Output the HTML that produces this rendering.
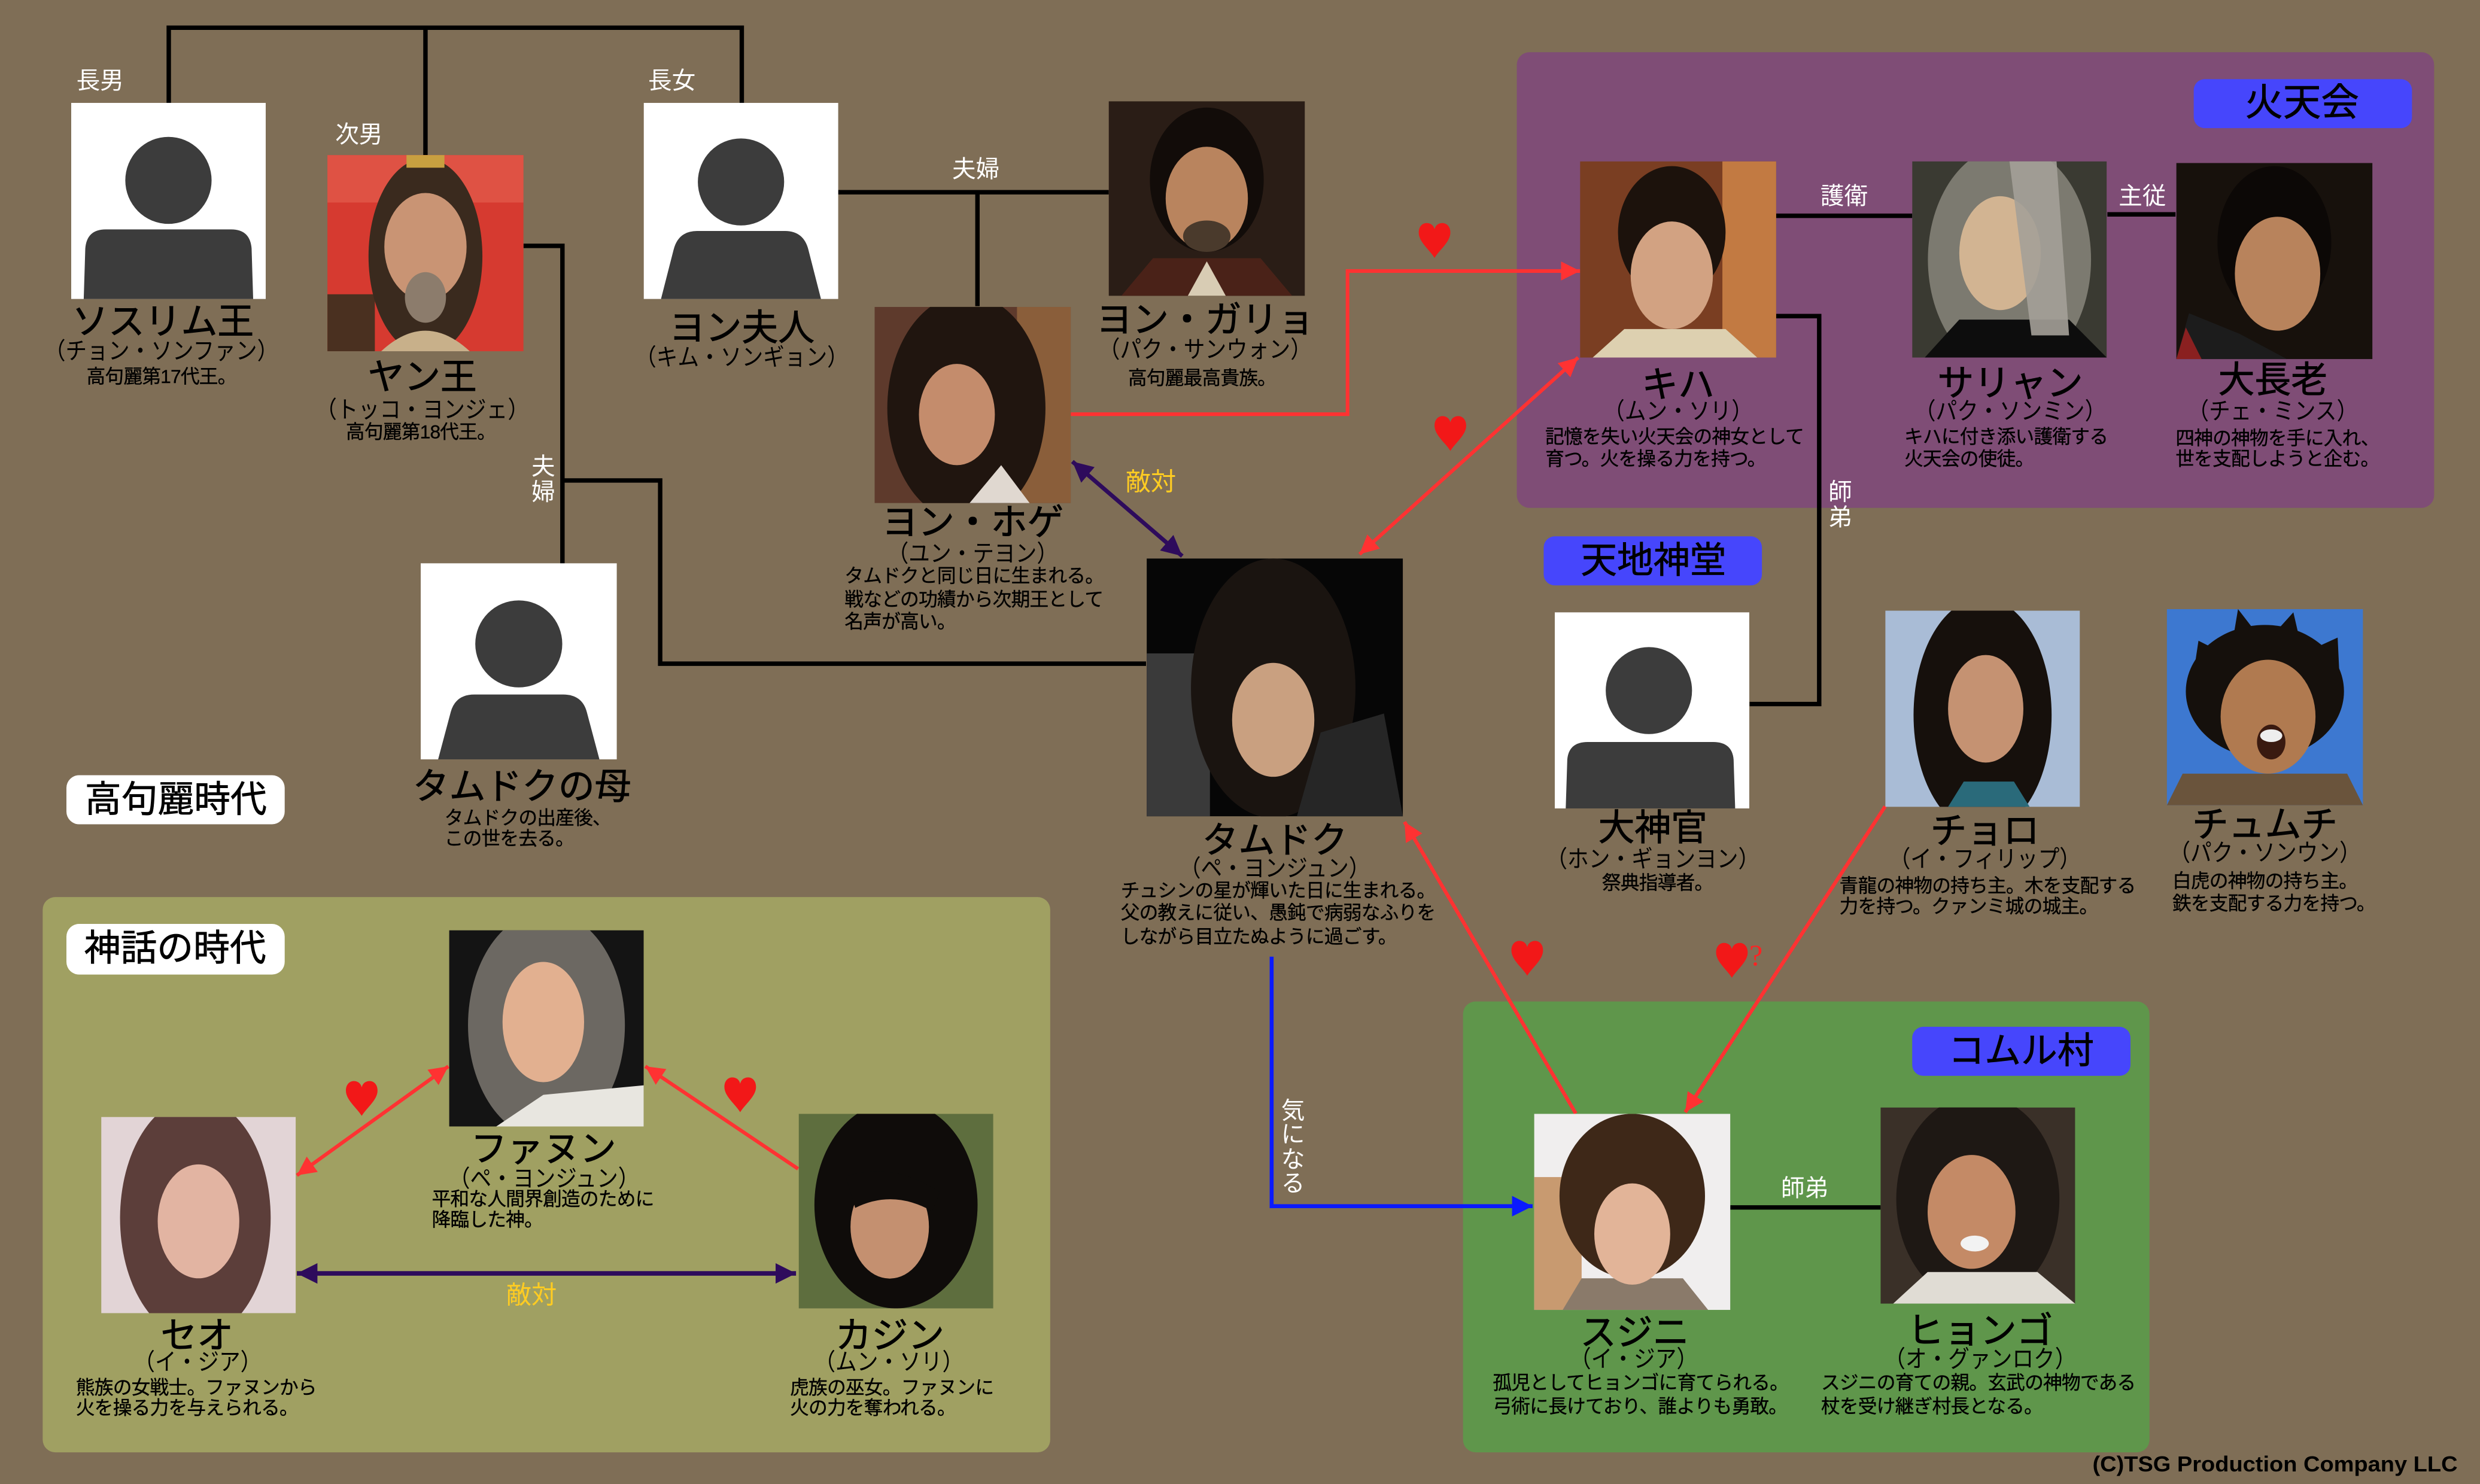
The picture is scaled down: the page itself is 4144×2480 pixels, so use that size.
<!DOCTYPE html>
<html><head><meta charset="utf-8">
<style>
html,body{margin:0;padding:0;width:4144px;height:2480px;overflow:hidden;background:#7f6e56}
#w{position:absolute;left:0;top:0;width:1568px;height:938px;transform:scale(2.642857,2.643923);transform-origin:0 0;font-family:"Liberation Sans","Noto Sans CJK JP",sans-serif;color:#000}
.a{position:absolute}
.t{position:absolute;white-space:nowrap;line-height:1}
.c{width:300px;margin-left:-150px;text-align:center}
.n{font-size:23px;-webkit-text-stroke:0.35px #000}
.r{font-size:15px;transform:scaleX(.9);margin-top:1.5px}
.d{font-size:12px;line-height:14px;letter-spacing:-.3px;-webkit-text-stroke:0.15px #000}
.w{color:#fff;font-size:15px}
.y{color:#ffcc22;font-size:16px}
.g{position:absolute;border-radius:8px}
.lb{position:absolute;border-radius:7px;text-align:center;color:#000;font-size:24px;background:#4646fc;-webkit-text-stroke:0.3px #000}
.wb{position:absolute;border-radius:8px;text-align:center;color:#000;font-size:23px;background:#fff;-webkit-text-stroke:0.3px #000}
svg.p{position:absolute}
</style></head><body><div id="w">

<!-- group boxes -->
<div class="g" style="left:959.3px;top:33.2px;width:580px;height:288px;background:#7f4d76"></div>
<div class="g" style="left:27px;top:566.7px;width:636.5px;height:351px;background:#a0a062"></div>
<div class="g" style="left:925px;top:633px;width:434px;height:284.5px;background:#5f964b"></div>

<!-- connectors -->
<svg class="a" style="left:0;top:0" width="1568" height="938" viewBox="0 0 1568 938">
<defs>
<marker id="mr" markerUnits="userSpaceOnUse" markerWidth="12" markerHeight="12" viewBox="0 0 12 12" refX="12" refY="6" orient="auto-start-reverse"><path d="M0,0L12,6L0,12Z" fill="#ff3232"/></marker>
<marker id="mp" markerUnits="userSpaceOnUse" markerWidth="13" markerHeight="13" viewBox="0 0 12 12" refX="12" refY="6" orient="auto-start-reverse"><path d="M0,0L12,6L0,12Z" fill="#2e0b5c"/></marker>
<marker id="mb" markerUnits="userSpaceOnUse" markerWidth="13" markerHeight="13" viewBox="0 0 12 12" refX="12" refY="6" orient="auto-start-reverse"><path d="M0,0L12,6L0,12Z" fill="#0a1aff"/></marker>
<path id="h" d="M0 11C-3 6 -10 1 -10 -5C-10 -9 -7.5 -11 -5 -11C-2.5 -11 -0.5 -9.5 0 -7C0.5 -9.5 2.5 -11 5 -11C7.5 -11 10 -9 10 -5C10 1 3 6 0 11Z" fill="#f21818"/>
</defs>
<g fill="none" stroke="#000" stroke-width="2.8">
<path d="M106.7 65V17.5H469V65M269 17.5V98"/>
<path d="M331 155.4H355.6V356.4M355.6 303.7H417.4V419.5H724.6"/>
<path d="M530 121.5H701M618 121.5V193.5"/>
<path d="M1122.6 136.4H1209M1332.4 135.5H1375.5"/>
<path d="M1122.6 199.8H1150.2V445H1106.2"/>
<path d="M1094 763.2H1189"/>
</g>
<g fill="none" stroke="#ff3232" stroke-width="2.3">
<path d="M677 261.8H852V171.3H999" marker-end="url(#mr)"/>
<path d="M997.8 226L859.6 350.3" marker-start="url(#mr)" marker-end="url(#mr)"/>
<path d="M996.3 703.8L888 519.5" marker-end="url(#mr)"/>
<path d="M1191.9 509.7L1065.5 703" marker-end="url(#mr)"/>
<path d="M187.7 742.9L283.5 674" marker-start="url(#mr)" marker-end="url(#mr)"/>
<path d="M504.6 738.8L408 674" marker-end="url(#mr)"/>
</g>
<g fill="none" stroke="#2e0b5c">
<path d="M678 291.7L747.5 351.5" stroke-width="2.6" marker-start="url(#mp)" marker-end="url(#mp)"/>
<path d="M187.7 804.9H503.3" stroke-width="2.9" marker-start="url(#mp)" marker-end="url(#mp)"/>
</g>
<path d="M804 604.7V762.4H969" fill="none" stroke="#0a1aff" stroke-width="2.5" marker-end="url(#mb)"/>
<use href="#h" x="907" y="152"/>
<use href="#h" x="917" y="274"/>
<use href="#h" x="965.6" y="605.7"/>
<use href="#h" x="1095" y="607"/>
<use href="#h" x="228.7" y="694.3"/>
<use href="#h" x="468" y="692"/>
</svg>
<div class="t" style="left:1106px;top:595px;color:#f22;font-size:19px;font-family:'Liberation Serif',serif">?</div>

<!-- silhouettes -->
<svg class="p" style="left:45px;top:65px" width="123" height="124" viewBox="0 0 124 124" preserveAspectRatio="none"><rect width="124" height="124" fill="#fff"/><circle cx="62" cy="49" r="27.5" fill="#3c3c3c"/><path d="M8 124L9 92Q10 80 22 80H102Q114 80 115 92L116 124Z" fill="#3c3c3c"/></svg>
<svg class="p" style="left:407px;top:65px" width="123" height="124" viewBox="0 0 124 124" preserveAspectRatio="none"><rect width="124" height="124" fill="#fff"/><circle cx="62" cy="50" r="27.5" fill="#3c3c3c"/><path d="M11 124L19 93Q22 81 34 81H90Q102 81 105 93L113 124Z" fill="#3c3c3c"/></svg>
<svg class="p" style="left:266px;top:356px" width="124" height="124" viewBox="0 0 124 124" preserveAspectRatio="none"><rect width="124" height="124" fill="#fff"/><circle cx="62" cy="51" r="27.5" fill="#3c3c3c"/><path d="M11 124L19 94Q22 83 34 83H90Q102 83 105 94L113 124Z" fill="#3c3c3c"/></svg>
<svg class="p" style="left:983px;top:387px" width="123" height="124" viewBox="0 0 124 124" preserveAspectRatio="none"><rect width="124" height="124" fill="#fff"/><circle cx="60" cy="49.5" r="27.5" fill="#3c3c3c"/><path d="M7 124L8 93Q9 82 21 82H101Q113 82 114 93L115 124Z" fill="#3c3c3c"/></svg>

<!-- photos -->
<svg class="p" style="left:207px;top:98px" width="124" height="124" viewBox="0 0 124 124" preserveAspectRatio="none"><rect width="124" height="124" fill="#d63a30"/><rect width="124" height="30" fill="#e86a58" opacity=".5"/><rect y="88" width="30" height="36" fill="#4a3020"/><ellipse cx="62" cy="64" rx="36" ry="62" fill="#3a2a1e"/><path d="M34 124Q62 98 90 124Z" fill="#c8b08a"/><ellipse cx="62" cy="58" rx="26" ry="34" fill="#c99474"/><ellipse cx="62" cy="90" rx="13" ry="16" fill="#8c7c6c"/><rect x="50" y="0" width="24" height="8" fill="#c8a040"/></svg>
<svg class="p" style="left:701px;top:64px" width="124" height="123" viewBox="0 0 124 124" preserveAspectRatio="none"><rect width="124" height="124" fill="#2a1d16"/><ellipse cx="62" cy="50" rx="36" ry="46" fill="#120c09"/><path d="M8 124L28 100H96L116 124Z" fill="#4a2218"/><path d="M50 124L62 102L74 124Z" fill="#d8ccb4"/><ellipse cx="62" cy="62" rx="26" ry="33" fill="#b9845e"/><ellipse cx="62" cy="86" rx="15" ry="10" fill="#4a3a2c"/></svg>
<svg class="p" style="left:553px;top:193.5px" width="124" height="124" viewBox="0 0 124 124" preserveAspectRatio="none"><rect width="124" height="124" fill="#5e3a2c"/><rect x="90" width="34" height="124" fill="#8a5e3a"/><ellipse cx="58" cy="64" rx="50" ry="72" fill="#20150f"/><path d="M60 124L80 100L98 124Z" fill="#e0d8d0"/><ellipse cx="52" cy="68" rx="24" ry="32" fill="#c48c6c"/></svg>
<svg class="p" style="left:725px;top:353px" width="162" height="163" viewBox="0 0 162 163" preserveAspectRatio="none"><rect width="162" height="163" fill="#060606"/><rect y="60" width="40" height="103" fill="#3a3a3a"/><ellipse cx="80" cy="82" rx="52" ry="82" fill="#1a1410"/><path d="M95 163L110 110L150 98L162 163Z" fill="#262626"/><ellipse cx="80" cy="102" rx="26" ry="36" fill="#c9a080"/></svg>
<svg class="p" style="left:999px;top:102px" width="124" height="124" viewBox="0 0 124 124" preserveAspectRatio="none"><rect width="124" height="124" fill="#7a3e22"/><rect x="90" width="34" height="124" fill="#c27a42"/><ellipse cx="58" cy="45" rx="34" ry="42" fill="#1c120c"/><path d="M8 124L28 106H92L112 124Z" fill="#ddd0b0"/><ellipse cx="58" cy="72" rx="26" ry="34" fill="#d2a282"/></svg>
<svg class="p" style="left:1209px;top:102px" width="123" height="124" viewBox="0 0 124 124" preserveAspectRatio="none"><rect width="124" height="124" fill="#3a3a32"/><ellipse cx="62" cy="62" rx="52" ry="72" fill="#7c7a70"/><path d="M8 124L30 100H100L124 124Z" fill="#0d0d0d"/><ellipse cx="56" cy="58" rx="26" ry="36" fill="#d2b492"/><path d="M62 0H92L100 110H76Z" fill="#a4a098" opacity=".9"/></svg>
<svg class="p" style="left:1375.5px;top:102.5px" width="124" height="124" viewBox="0 0 124 124" preserveAspectRatio="none"><rect width="124" height="124" fill="#17110c"/><ellipse cx="62" cy="50" rx="36" ry="48" fill="#0c0806"/><path d="M0 124L8 95L40 108L70 124Z" fill="#1c1c1c"/><path d="M0 124L6 104L16 124Z" fill="#8a2020"/><ellipse cx="64" cy="70" rx="27" ry="36" fill="#b8835c"/></svg>
<svg class="p" style="left:1192px;top:386px" width="123" height="124" viewBox="0 0 124 124" preserveAspectRatio="none"><rect width="124" height="124" fill="#a9bcd6"/><ellipse cx="62" cy="66" rx="44" ry="74" fill="#16100c"/><path d="M40 124L50 108H82L92 124Z" fill="#2a6a7a"/><ellipse cx="64" cy="62" rx="24" ry="34" fill="#c59272"/></svg>
<svg class="p" style="left:1370px;top:385px" width="124" height="124" viewBox="0 0 124 124" preserveAspectRatio="none"><rect width="124" height="124" fill="#3d78d0"/><path d="M14 60L20 20L40 30L45 0L62 22L80 2L86 28L108 18L110 60Z" fill="#15100c"/><ellipse cx="62" cy="52" rx="50" ry="42" fill="#15100c"/><path d="M0 124L10 104H114L124 124Z" fill="#6a543c"/><ellipse cx="64" cy="68" rx="30" ry="36" fill="#b07a50"/><ellipse cx="66" cy="84" rx="9" ry="11" fill="#3a1a10"/><ellipse cx="66" cy="80" rx="7" ry="4" fill="#eee"/></svg>
<svg class="p" style="left:284px;top:588px" width="123" height="124" viewBox="0 0 124 124" preserveAspectRatio="none"><rect width="124" height="124" fill="#141414"/><ellipse cx="62" cy="60" rx="50" ry="72" fill="#6c6862"/><path d="M30 124L60 104L124 98V124Z" fill="#e8e6e0"/><ellipse cx="60" cy="58" rx="26" ry="38" fill="#e2b090"/></svg>
<svg class="p" style="left:63.5px;top:705.5px" width="123" height="124" viewBox="0 0 124 124" preserveAspectRatio="none"><rect width="124" height="124" fill="#e2d4d6"/><ellipse cx="60" cy="64" rx="48" ry="76" fill="#5c3e3a"/><ellipse cx="62" cy="66" rx="26" ry="36" fill="#e2b4a2"/></svg>
<svg class="p" style="left:504.6px;top:703.5px" width="123" height="123" viewBox="0 0 124 124" preserveAspectRatio="none"><rect width="124" height="124" fill="#5e6e3e"/><ellipse cx="62" cy="58" rx="52" ry="66" fill="#0f0c0a"/><ellipse cx="58" cy="72" rx="25" ry="33" fill="#c49070"/><path d="M30 40Q60 30 90 50L85 62Q60 48 36 60Z" fill="#0f0c0a"/></svg>
<svg class="p" style="left:970px;top:704px" width="124" height="124" viewBox="0 0 124 124" preserveAspectRatio="none"><rect width="124" height="124" fill="#f0eeee"/><rect y="40" width="30" height="84" fill="#c89a70"/><ellipse cx="62" cy="52" rx="46" ry="52" fill="#3e2818"/><path d="M18 124L30 104H94L110 124Z" fill="#8a7a6a"/><ellipse cx="62" cy="76" rx="24" ry="32" fill="#e2b498"/></svg>
<svg class="p" style="left:1189px;top:700px" width="123" height="124" viewBox="0 0 124 124" preserveAspectRatio="none"><rect width="124" height="124" fill="#3a3028"/><ellipse cx="62" cy="58" rx="52" ry="66" fill="#1e1814"/><path d="M8 124L30 104H100L124 124Z" fill="#e0dcd4"/><ellipse cx="58" cy="66" rx="28" ry="36" fill="#c48a66"/><ellipse cx="60" cy="86" rx="9" ry="5" fill="#f2f2f2"/></svg>

<!-- group labels -->
<div class="lb" style="left:1386.5px;top:49.6px;width:138px;height:31.4px;line-height:31.4px">火天会</div>
<div class="lb" style="left:976.4px;top:339px;width:138px;height:30.8px;line-height:30.8px;font-size:23px">天地神堂</div>
<div class="lb" style="left:1209px;top:648.5px;width:137.6px;height:31.2px;line-height:31.2px;font-size:23px">コムル村</div>
<div class="wb" style="left:42.2px;top:489.5px;width:138px;height:31.2px;line-height:31.2px">高句麗時代</div>
<div class="wb" style="left:42px;top:584.4px;width:137.5px;height:31.3px;line-height:31.3px">神話の時代</div>

<!-- white relation labels -->
<div class="t w" style="left:48.3px;top:44px">長男</div>
<div class="t w" style="left:212px;top:77.5px">次男</div>
<div class="t w" style="left:409.8px;top:44px">長女</div>
<div class="t w" style="left:602px;top:100px">夫婦</div>
<div class="t w" style="left:1151px;top:116.5px">護衛</div>
<div class="t w" style="left:1339.5px;top:116.5px">主従</div>
<div class="t w" style="left:1126px;top:744px">師弟</div>
<div class="t w" style="left:336px;top:288px;line-height:15.5px">夫<br>婦</div>
<div class="t w" style="left:1156px;top:304px;line-height:16px">師<br>弟</div>
<div class="t w" style="left:810px;top:695px;line-height:15.3px">気<br>に<br>な<br>る</div>
<div class="t y" style="left:711.6px;top:298px">敵対</div>
<div class="t y" style="left:320px;top:812px">敵対</div>

<!-- names -->
<div class="t c n" style="left:103px;top:191.5px">ソスリム王</div>
<div class="t c n" style="left:267px;top:226.5px">ヤン王</div>
<div class="t c n" style="left:469px;top:195.5px">ヨン夫人</div>
<div class="t c n" style="left:762px;top:190.5px">ヨン・ガリョ</div>
<div class="t c n" style="left:615px;top:318.5px">ヨン・ホゲ</div>
<div class="t c n" style="left:1061px;top:232px">キハ</div>
<div class="t c n" style="left:1271px;top:230.5px">サリャン</div>
<div class="t c n" style="left:1437px;top:229px">大長老</div>
<div class="t c n" style="left:806px;top:520px">タムドク</div>
<div class="t c n" style="left:330px;top:485.5px">タムドクの母</div>
<div class="t c n" style="left:1045px;top:512px">大神官</div>
<div class="t c n" style="left:1255px;top:514px">チョロ</div>
<div class="t c n" style="left:1432px;top:510px">チュムチ</div>
<div class="t c n" style="left:343.6px;top:715px">ファヌン</div>
<div class="t c n" style="left:124.6px;top:833px">セオ</div>
<div class="t c n" style="left:562.6px;top:832.5px">カジン</div>
<div class="t c n" style="left:1033.5px;top:831px">スジニ</div>
<div class="t c n" style="left:1252px;top:829.5px">ヒョンゴ</div>

<!-- actors -->
<div class="t c r" style="left:102px;top:213px">（チョン・ソンファン）</div>
<div class="t c r" style="left:267px;top:250px">（トッコ・ヨンジェ）</div>
<div class="t c r" style="left:469px;top:217px">（キム・ソンギョン）</div>
<div class="t c r" style="left:762px;top:212px">（パク・サンウォン）</div>
<div class="t c r" style="left:615px;top:341px">（ユン・テヨン）</div>
<div class="t c r" style="left:1061px;top:251.5px">（ムン・ソリ）</div>
<div class="t c r" style="left:1271px;top:251.5px">（パク・ソンミン）</div>
<div class="t c r" style="left:1437px;top:251px">（チェ・ミンス）</div>
<div class="t c r" style="left:806px;top:540px">（ペ・ヨンジュン）</div>
<div class="t c r" style="left:1045px;top:534px">（ホン・ギョンヨン）</div>
<div class="t c r" style="left:1255px;top:534px">（イ・フィリップ）</div>
<div class="t c r" style="left:1432px;top:530px">（パク・ソンウン）</div>
<div class="t c r" style="left:343.6px;top:736px">（ペ・ヨンジュン）</div>
<div class="t c r" style="left:124.6px;top:852px">（イ・ジア）</div>
<div class="t c r" style="left:562px;top:852px">（ムン・ソリ）</div>
<div class="t c r" style="left:1033px;top:850px">（イ・ジア）</div>
<div class="t c r" style="left:1252px;top:850px">（オ・グァンロク）</div>

<!-- descriptions -->
<div class="t c d" style="left:102px;top:231px">高句麗第17代王。</div>
<div class="t c d" style="left:266px;top:266px">高句麗第18代王。</div>
<div class="t c d" style="left:760px;top:231.5px">高句麗最高貴族。</div>
<div class="t c d" style="left:1048px;top:550.5px">祭典指導者。</div>
<div class="t d" style="left:534px;top:357px;line-height:14.6px">タムドクと同じ日に生まれる。<br>戦などの功績から次期王として<br>名声が高い。</div>
<div class="t d" style="left:977px;top:270px;line-height:13.5px">記憶を失い火天会の神女として<br>育つ。火を操る力を持つ。</div>
<div class="t d" style="left:1204px;top:270px;line-height:13.5px">キハに付き添い護衛する<br>火天会の使徒。</div>
<div class="t d" style="left:1375.5px;top:270.5px;line-height:13.5px">四神の神物を手に入れ、<br>世を支配しようと企む。</div>
<div class="t d" style="left:708.6px;top:556px;line-height:14.4px">チュシンの星が輝いた日に生まれる。<br>父の教えに従い、愚鈍で病弱なふりを<br>しながら目立たぬように過ごす。</div>
<div class="t d" style="left:281px;top:510.5px;line-height:13px">タムドクの出産後、<br>この世を去る。</div>
<div class="t d" style="left:1163px;top:553.5px;line-height:13.7px">青龍の神物の持ち主。木を支配する<br>力を持つ。クァンミ城の城主。</div>
<div class="t d" style="left:1373.5px;top:550px;line-height:14.3px">白虎の神物の持ち主。<br>鉄を支配する力を持つ。</div>
<div class="t d" style="left:273px;top:752px;line-height:13.3px">平和な人間界創造のために<br>降臨した神。</div>
<div class="t d" style="left:48px;top:870.5px;line-height:13.3px">熊族の女戦士。ファヌンから<br>火を操る力を与えられる。</div>
<div class="t d" style="left:499.5px;top:870.5px;line-height:13.3px">虎族の巫女。ファヌンに<br>火の力を奪われる。</div>
<div class="t d" style="left:943.8px;top:867px;line-height:14.8px">孤児としてヒョンゴに育てられる。<br>弓術に長けており、誰よりも勇敢。</div>
<div class="t d" style="left:1151.4px;top:867px;line-height:14.8px">スジニの育ての親。玄武の神物である<br>杖を受け継ぎ村長となる。</div>

<div class="t" style="left:1322.6px;top:918.5px;font-size:13.5px;font-weight:bold;color:#000;font-family:'Liberation Sans',sans-serif;transform:scaleX(1.065);transform-origin:0 0">(C)TSG Production Company LLC</div>

</div></body></html>
